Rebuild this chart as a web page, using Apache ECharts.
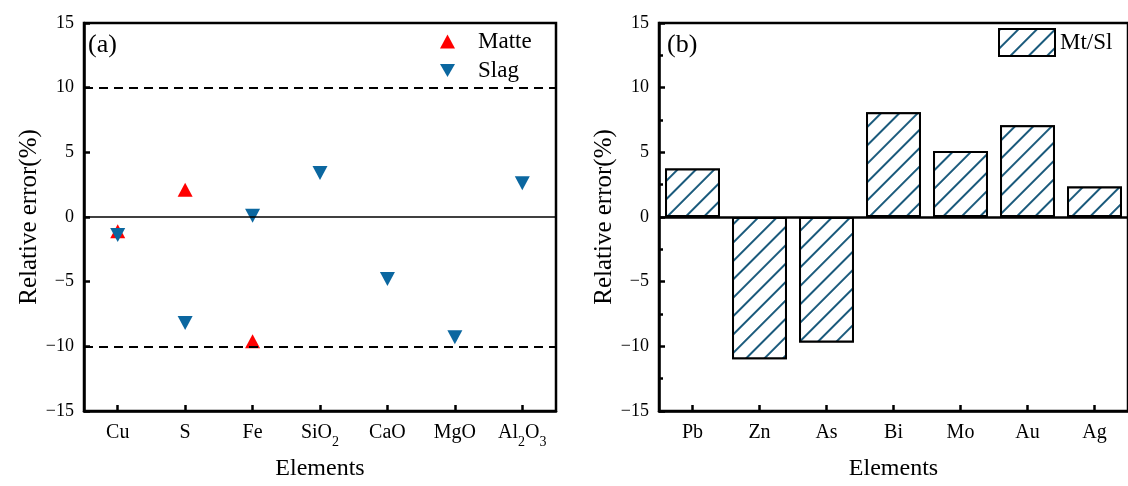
<!DOCTYPE html>
<html><head><meta charset="utf-8">
<script src="https://cdn.jsdelivr.net/npm/echarts@6/dist/echarts.min.js"></script>
<style>html,body{margin:0;padding:0;background:#fff}#c{width:1128px;height:486px}</style>
</head><body><div id="c"></div>
<script>
// ---- data ----
const catsA = ['Cu', 'S', 'Fe', 'SiO2', 'CaO', 'MgO', 'Al2O3'];
const matteVals = [-1.1, 2.1, -9.6, null, null, null, null];
const slagVals = [-1.4, -8.2, 0.1, 3.4, -4.8, -9.3, 2.6];
const catsB = ['Pb', 'Zn', 'As', 'Bi', 'Mo', 'Au', 'Ag'];
const mtslVals = [3.75, -11.0, -9.7, 8.1, 5.1, 7.1, 2.35];
const yMin = -15, yMax = 15, yStep = 5;
const refLinesA = [-10, 0, 10];

const FONT = '"Liberation Serif", "Times New Roman", serif';
const RED = '#ff0000';
const BLUE = '#0b67a0';
const STRIPE = '#1a5a7c';
const downTri = 'path://M0,0L20,0L10,17.3Z';

function catLabel(v) {
  const m = v.match(/^([A-Za-z]+)(\d)([A-Za-z]*)(\d?)$/);
  if (!m) return '{n|' + v + '}';
  let s = '{n|' + m[1] + '}{s|' + m[2] + '}';
  if (m[3]) s += '{n|' + m[3] + '}';
  if (m[4]) s += '{s|' + m[4] + '}';
  return s;
}
const richLbl = {
  n: {fontFamily: FONT, fontSize: 20, color: '#000', lineHeight: 22},
  s: {fontFamily: FONT, fontSize: 14, color: '#000', lineHeight: 14, verticalAlign: 'bottom', padding: [0, 0, -5, 0]}
};

function yAxisCfg(gi, minor) {
  return {
    type: 'value', gridIndex: gi, min: yMin, max: yMax, interval: yStep,
    name: 'Relative error(%)', nameLocation: 'middle', nameGap: 40,
    nameTextStyle: {fontFamily: FONT, fontSize: 25, color: '#000'},
    axisLine: {show: true, lineStyle: {color: '#000', width: 2.5}},
    axisTick: {show: true, inside: true, length: 6, lineStyle: {color: '#000', width: 2.5}},
    minorTick: {show: minor, splitNumber: 2, length: 4, lineStyle: {color: '#000', width: 2.5}},
    splitLine: {show: false},
    axisLabel: {fontFamily: FONT, fontSize: 18, color: '#000', margin: 10,
      formatter: v => String(v).replace('-', '\u2212')}
  };
}
function xAxisCfg(gi, cats) {
  return {
    type: 'category', gridIndex: gi, data: cats, boundaryGap: true,
    name: 'Elements', nameLocation: 'middle', nameGap: 46,
    nameTextStyle: {fontFamily: FONT, fontSize: 24, color: '#000'},
    axisLine: {show: true, onZero: false, lineStyle: {color: '#000', width: 2.5}},
    axisTick: {show: true, inside: true, alignWithLabel: true, length: 6, lineStyle: {color: '#000', width: 2.5}},
    splitLine: {show: false},
    axisLabel: {margin: 11, interval: 0, formatter: catLabel, rich: richLbl}
  };
}

const chart = echarts.init(document.getElementById('c'), null, {renderer: 'canvas'});
chart.setOption({
  backgroundColor: '#fff',
  animation: false,
  grid: [
    {left: 84, top: 23, width: 472, height: 391, show: true, borderColor: '#000', borderWidth: 2.5, backgroundColor: 'transparent'},
    {left: 659, top: 23, width: 472, height: 392, show: true, borderColor: '#000', borderWidth: 2.5, backgroundColor: 'transparent'}
  ],
  xAxis: [xAxisCfg(0, catsA), xAxisCfg(1, catsB)],
  yAxis: [yAxisCfg(0, false), yAxisCfg(1, true)],
  legend: [
    {
      orient: 'vertical', left: 435, top: 25, itemWidth: 15, itemHeight: 14, itemGap: 6,
      textStyle: {fontFamily: FONT, fontSize: 23, color: '#000', padding: [0, 0, 0, 18]},
      data: [{name: 'Matte', icon: 'triangle'}, {name: 'Slag', icon: downTri}]
    },
    {
      orient: 'vertical', left: 993, top: 23, itemWidth: 56, itemHeight: 27,
      textStyle: {fontFamily: FONT, fontSize: 23, color: '#000', padding: [0, 0, 0, 0]},
      data: [{name: 'Mt/Sl', icon: 'rect'}]
    }
  ],
  graphic: [
    {type: 'text', left: 88, top: 32, style: {text: '(a)', font: '26px ' + FONT, fill: '#000'}},
    {type: 'text', left: 667, top: 32, style: {text: '(b)', font: '26px ' + FONT, fill: '#000'}}
  ],
  series: [
    {
      name: 'Matte', type: 'scatter', xAxisIndex: 0, yAxisIndex: 0,
      symbol: 'triangle', symbolSize: [15, 14], data: matteVals,
      itemStyle: {color: RED, opacity: 1},
      markLine: {
        silent: true, symbol: 'none', label: {show: false},
        data: refLinesA.map(v => ({yAxis: v, lineStyle: v === 0
          ? {type: 'solid', color: '#000', width: 1.5}
          : {type: [9, 6], color: '#000', width: 2}}))
      }
    },
    {
      name: 'Slag', type: 'scatter', xAxisIndex: 0, yAxisIndex: 0,
      symbol: downTri, symbolSize: [15, 14], data: slagVals,
      itemStyle: {color: BLUE, opacity: 1}
    },
    {
      name: 'Mt/Sl', type: 'bar', xAxisIndex: 1, yAxisIndex: 1,
      barWidth: '82%', data: mtslVals,
      itemStyle: {
        color: '#fff', borderColor: '#000', borderWidth: 2,
        decal: {symbol: 'rect', symbolSize: 1, color: STRIPE, backgroundColor: '#fff',
          dashArrayX: [1, 0], dashArrayY: [2, 11], rotation: -Math.PI / 4}
      },
      markLine: {
        silent: true, symbol: 'none', label: {show: false},
        data: [{yAxis: 0, lineStyle: {type: 'solid', color: '#000', width: 2.5}}]
      }
    }
  ]
});
</script></body></html>
